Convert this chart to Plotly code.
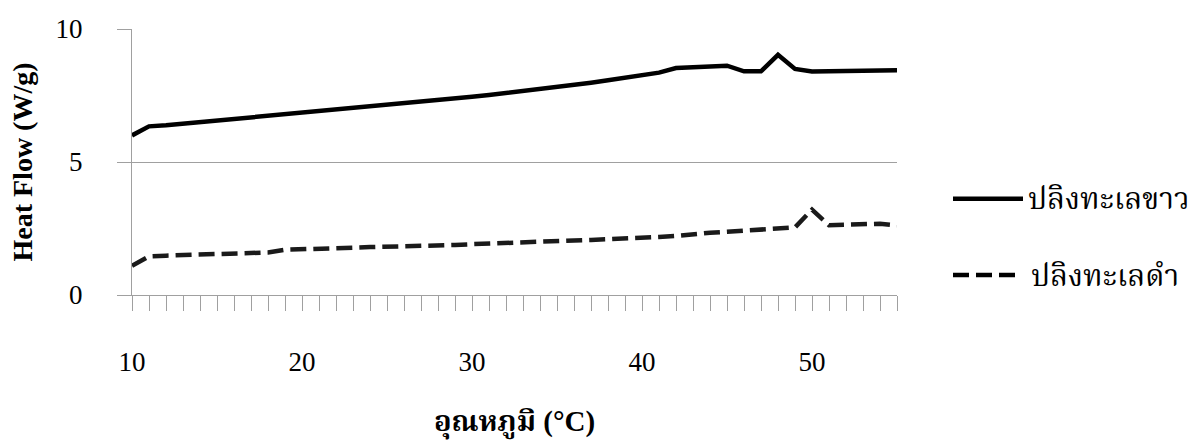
import plotly.graph_objects as go

temperature = list(range(10, 56))

white_sea_cucumber = [
    6.00, 6.34, 6.38, 6.44, 6.49, 6.54, 6.58, 6.64, 6.70, 6.76,
    6.82, 6.88, 6.94, 7.00, 7.06, 7.12, 7.18, 7.24, 7.31, 7.38,
    7.45, 7.52, 7.59, 7.66, 7.74, 7.82, 7.90, 7.98, 8.07, 8.16,
    8.26, 8.36, 8.53, 8.55, 8.57, 8.62, 8.41, 8.41, 9.03, 8.50,
    8.40, 8.41, 8.45, 8.47, 8.44, 8.45,
]

black_sea_cucumber = [
    1.10, 1.45, 1.48, 1.50, 1.52, 1.54, 1.55, 1.56, 1.60, 1.70,
    1.73, 1.75, 1.77, 1.78, 1.80, 1.81, 1.83, 1.84, 1.86, 1.88,
    1.91, 1.94, 1.97, 1.99, 2.01, 2.03, 2.05, 2.07, 2.09, 2.12,
    2.15, 2.18, 2.22, 2.30, 2.34, 2.38, 2.42, 2.46, 2.50, 2.54,
    3.21, 2.62, 2.64, 2.66, 2.68, 2.62,
]

series_names = ["ปลิงทะเลขาว", "ปลิงทะเลดำ"]
x_title = "อุณหภูมิ (°C)"
y_title = "Heat Flow (W/g)"

FONT = "Liberation Serif, Times New Roman, Noto Serif Thai, Noto Sans Thai, serif"
GRID = "#a0a0a0"
DASH = "16px,7px"

fig = go.Figure()
fig.add_trace(go.Scatter(
    x=temperature, y=white_sea_cucumber, mode="lines", name=series_names[0],
    line=dict(color="black", width=4.5), showlegend=False,
))
fig.add_trace(go.Scatter(
    x=temperature, y=black_sea_cucumber, mode="lines", name=series_names[1],
    line=dict(color="#1a1a1a", width=4.5, dash=DASH), showlegend=False,
))

# manual legend (long line samples like the original)
PW = 765.0
legend_rows = [
    (0.362, "solid", series_names[0], 953, 1023, 1026),
    (0.075, DASH, series_names[1], 953, 1016, 1029),
]
for ypos, dash, label, lx0, lx1, tx in legend_rows:
    fig.add_shape(type="line", xref="paper", yref="paper",
                  x0=(lx0 - 132) / PW, x1=(lx1 - 132) / PW,
                  y0=ypos, y1=ypos,
                  line=dict(color="black", width=4.5, dash=dash))
    fig.add_annotation(xref="paper", yref="paper", x=(tx - 132) / PW,
                       y=ypos, text=label, showarrow=False, xanchor="left", yanchor="middle",
                       font=dict(family=FONT, size=30, color="black"))

fig.update_layout(
    width=1188, height=444,
    margin=dict(l=132, r=291, t=29, b=147),
    paper_bgcolor="white", plot_bgcolor="white",
    font=dict(family=FONT, color="black"),
    showlegend=False,
)

fig.update_xaxes(
    range=[10, 55], tick0=10, dtick=10,
    showgrid=False, zeroline=False,
    showline=True, linecolor=GRID, linewidth=1,
    ticks="outside", ticklen=15, tickcolor=GRID, tickwidth=1,
    minor=dict(dtick=1, ticks="outside", ticklen=15, tickcolor=GRID, tickwidth=1, showgrid=False),
    tickfont=dict(family=FONT, size=27, color="black"),
    ticklabelstandoff=28,
    title=dict(text=x_title, font=dict(family=FONT, size=29, color="black", weight="bold"), standoff=34),
)
fig.update_yaxes(
    range=[0, 10], tickvals=[0, 5, 10],
    showgrid=True, gridcolor=GRID, gridwidth=1,
    zeroline=False,
    showline=True, linecolor=GRID, linewidth=1,
    ticks="outside", ticklen=14, tickcolor=GRID, tickwidth=1,
    tickfont=dict(family=FONT, size=27, color="black"),
    ticklabelstandoff=29,
    title=dict(text=y_title, font=dict(family=FONT, size=28, color="black", weight="bold"), standoff=14),
)

fig.write_html("out.html")
